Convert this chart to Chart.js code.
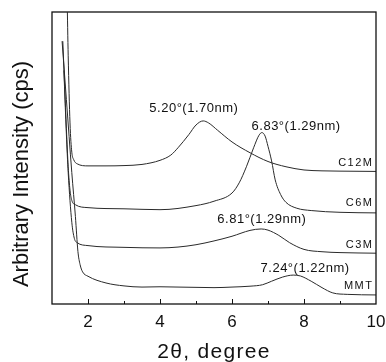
<!DOCTYPE html>
<html lang="en">
<head>
  <meta charset="UTF-8">
  <title>XRD patterns</title>
  <script src="https://cdn.jsdelivr.net/npm/chart.js"></script>
  <style>
    body {
      margin: 0;
      padding: 0;
      background: #ffffff;
    }
    #chartContainer {
      width: 386px;
      height: 362px;
    }
  </style>
</head>
<body>
  <div id="chartContainer">
    <canvas id="xrdChart"></canvas>
  </div>
  <script>
    // 2theta (degree) and intensity (arbitrary, offset per sample)
    const seriesNames = ['C12M', 'C6M', 'C3M', 'MMT'];

    const xC12M = [1.42, 1.45, 1.5, 1.55, 1.6, 1.7, 2.0, 2.5, 3.0, 3.5, 4.0, 4.3, 4.5, 4.8, 5.0, 5.2, 5.35, 5.6, 6.0, 6.5, 7.0, 7.5, 8.0, 8.5, 9.0, 10.0];
    const yC12M = [105, 85, 62, 52, 49.5, 48, 47.3, 47.3, 47.4, 47.8, 49.2, 51, 53.5, 58, 61.3, 62.7, 62, 59.5, 55.5, 51.8, 48.8, 47, 45.9, 45.6, 45.5, 45.4];

    const xC6M = [1.3, 1.35, 1.4, 1.45, 1.5, 1.55, 1.65, 2.0, 3.0, 4.0, 5.0, 5.5, 6.0, 6.2, 6.4, 6.6, 6.75, 6.83, 6.92, 7.0, 7.1, 7.2, 7.35, 7.5, 7.8, 8.2, 9.0, 10.0];
    const yC6M = [90, 75, 60, 47, 39, 35.5, 34, 33, 32.6, 32.3, 33.7, 35.2, 38, 41.5, 47, 53.5, 57.8, 58.7, 57.5, 54, 49, 42.5, 37.5, 34.8, 32.8, 32, 31.4, 31.2];

    const xC3M = [1.33, 1.4, 1.45, 1.55, 1.62, 1.7, 2.0, 3.0, 4.0, 4.5, 5.0, 5.5, 6.0, 6.5, 6.81, 7.0, 7.3, 7.6, 8.0, 8.5, 9.0, 10.0];
    const yC3M = [80, 58, 45, 28, 22.5, 21, 20, 19.4, 19.2, 19.5, 20.3, 21.6, 23.2, 25.2, 25.7, 25.3, 23.5, 21, 18.7, 17.9, 17.6, 17.4];

    const xMMT = [1.28, 1.4, 1.55, 1.65, 1.72, 1.78, 1.85, 2.0, 2.5, 3.0, 3.5, 4.0, 4.5, 5.0, 5.5, 6.0, 6.5, 6.85, 7.1, 7.4, 7.7, 7.9, 8.2, 8.5, 8.8, 9.2, 10.0];
    const yMMT = [90, 70, 45, 30, 18, 13.5, 11, 9.5, 7.2, 6.2, 5.8, 5.9, 5.8, 5.7, 5.6, 5.8, 6.1, 6.6, 7.8, 9.2, 9.9, 9.6, 7.8, 5.6, 3.8, 3.3, 3.1];

    const xTickValues = [2, 4, 6, 8, 10];
    const xTickLabels = ['2', '4', '6', '8', '10'];
    const xMinorValues = [3, 5, 7, 9];

    // peak annotations: text, x, y (data units)
    const peakTexts = ['5.20°(1.70nm)', '6.83°(1.29nm)', '6.81°(1.29nm)', '7.24°(1.22nm)'];
    const peakX = [4.94, 7.78, 6.83, 8.03];
    const peakY = [67.1, 60.8, 28.8, 12.3];

    // sample name labels at the right end
    const nameX = [9.93, 9.93, 9.93, 9.93];
    const nameY = [48.3, 34.6, 20.2, 6.2];

    const FONT = '"Liberation Sans", Arial, sans-serif';

    const toPoints = (xs, ys) => xs.map((x, i) => ({ x: x, y: ys[i] }));
    const allX = [xC12M, xC6M, xC3M, xMMT];
    const allY = [yC12M, yC6M, yC3M, yMMT];

    const datasets = seriesNames.map((name, i) => ({
      label: name,
      data: toPoints(allX[i], allY[i]),
      borderColor: '#2a2a2a',
      borderWidth: 1,
      pointRadius: 0,
      fill: false,
      cubicInterpolationMode: 'monotone'
    }));

    const decorPlugin = {
      id: 'decor',
      afterDraw(chart) {
        const ctx = chart.ctx;
        const area = chart.chartArea;
        const xs = chart.scales.x;
        const ys = chart.scales.y;
        ctx.save();

        // frame
        ctx.strokeStyle = '#111';
        ctx.lineWidth = 1.3;
        ctx.strokeRect(area.left, area.top, area.right - area.left, area.bottom - area.top);

        // inward ticks on bottom axis
        ctx.lineWidth = 1;
        const tick = (v, len) => {
          const px = Math.round(xs.getPixelForValue(v)) + 0.5;
          ctx.beginPath();
          ctx.moveTo(px, area.bottom);
          ctx.lineTo(px, area.bottom - len);
          ctx.stroke();
        };
        xTickValues.filter(v => v < 10).forEach(v => tick(v, 5));
        xMinorValues.forEach(v => tick(v, 3));

        // x tick labels
        ctx.fillStyle = '#111';
        ctx.font = '17px ' + FONT;
        ctx.textAlign = 'center';
        ctx.textBaseline = 'alphabetic';
        xTickValues.forEach((v, i) => {
          ctx.fillText(xTickLabels[i], xs.getPixelForValue(v), area.bottom + 23);
        });

        // x axis title
        ctx.font = '21px ' + FONT;
        ctx.letterSpacing = '1.3px';
        ctx.fillText('2θ, degree', (area.left + area.right) / 2, 358);
        ctx.letterSpacing = '0px';

        // y axis title
        ctx.font = '22px ' + FONT;
        ctx.textBaseline = 'middle';
        ctx.translate(22, 174);
        ctx.rotate(-Math.PI / 2);
        ctx.fillText('Arbitrary Intensity (cps)', 0, 0);
        ctx.setTransform(1, 0, 0, 1, 0, 0);

        // peak annotations
        ctx.font = '13px ' + FONT;
        ctx.letterSpacing = '0.5px';
        ctx.textAlign = 'center';
        peakTexts.forEach((t, i) => {
          ctx.fillText(t, xs.getPixelForValue(peakX[i]), ys.getPixelForValue(peakY[i]));
        });

        // sample names
        ctx.font = '11px ' + FONT;
        ctx.letterSpacing = '1.5px';
        ctx.textAlign = 'right';
        seriesNames.forEach((n, i) => {
          ctx.fillText(n, xs.getPixelForValue(nameX[i]), ys.getPixelForValue(nameY[i]));
        });
        ctx.restore();
      }
    };

    new Chart(document.getElementById('xrdChart'), {
      type: 'line',
      data: { datasets: datasets },
      options: {
        responsive: true,
        maintainAspectRatio: false,
        animation: false,
        layout: {
          padding: { left: 52, right: 10, top: 12, bottom: 58 }
        },
        plugins: {
          legend: { display: false },
          tooltip: { enabled: false }
        },
        scales: {
          x: {
            type: 'linear',
            display: false,
            min: 1,
            max: 10
          },
          y: {
            display: false,
            min: 0,
            max: 100
          }
        }
      },
      plugins: [decorPlugin]
    });
  </script>
</body>
</html>
